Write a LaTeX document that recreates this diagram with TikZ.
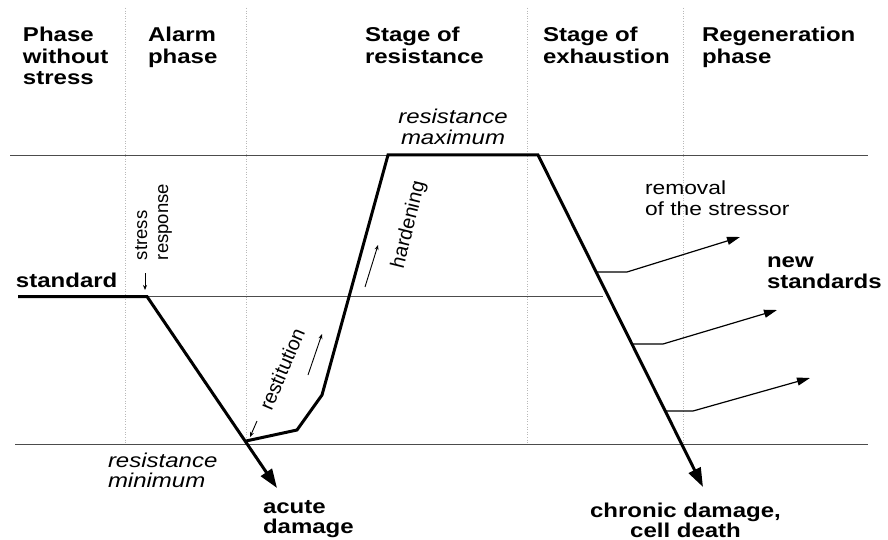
\documentclass[tikz,border=0pt]{standalone}
\usepackage{fontspec}
\setmainfont{Liberation Sans}[FakeStretch=1.2]
\newfontfamily\plainsf{Liberation Sans}
\usetikzlibrary{arrows.meta}
\begin{document}
\begin{tikzpicture}[x=1pt,y=-1pt,
  every node/.style={inner sep=0pt, outer sep=0pt},
  head/.style={font=\fontsize{20}{21.6}\selectfont\bfseries, align=left, anchor=base west},
  boldlbl/.style={font=\fontsize{20}{20.5}\selectfont\bfseries},
  plainlbl/.style={font=\fontsize{19}{21}\selectfont, align=left, anchor=base west},
  itlbl/.style={font=\fontsize{20}{21}\selectfont\itshape},
  rotlbl/.style={font=\plainsf\fontsize{20}{21}\selectfont},
  phaseline/.style={draw=gray!55, line width=0.7pt, dash pattern=on 1pt off 1.6pt},
  refline/.style={draw=black!70, line width=0.9pt},
  mainline/.style={line width=3pt, line join=miter},
  bigtip/.style={-{Triangle[length=19pt,width=13pt]}},
  branch/.style={line width=1.2pt, -{Triangle[length=13pt,width=8pt]}},
  tinyarrow/.style={line width=0.9pt, -{Stealth[length=5pt,width=4pt]}},
]
\useasboundingbox (0,0) rectangle (888,540);
\fill[white] (0,0) rectangle (888,540);

% phase separators
\foreach \xx in {125,246,527,683}
  \draw[phaseline] (\xx,8) -- (\xx,444);

% reference levels
\draw[refline] (10,155) -- (868,155);
\draw[refline] (18,296.5) -- (603,296.5);
\draw[refline] (15,444) -- (868,444);

% headings (anchor = baseline of the last line)
\node[head] (h1) at (23,84.7) {Phase\\without\\stress};
\node[head] (h2) at (148,63.1) {Alarm\\phase};
\node[head] (h3) at (365,63.1) {Stage of\\resistance};
\node[head] (h4) at (543,63.1) {Stage of\\exhaustion};
\node[head] (h5) at (702,63.1) {Regeneration\\phase};

% curve points
\coordinate (s0) at (18,296.5);
\coordinate (s1) at (147,296.5);
\coordinate (acute) at (277,488);
\coordinate (rmin) at (246,441);
\coordinate (r1) at (297,430);
\coordinate (r2) at (322,395);
\coordinate (rmax0) at (388,155);
\coordinate (rmax1) at (538,155);
\coordinate (chronic) at (703,487);

\draw[mainline, bigtip] (s0) -- (s1) -- (acute);
\draw[mainline, bigtip] (rmin) -- (r1) -- (r2) -- (rmax0) -- (rmax1) -- (chronic);

% branches to new standards
\coordinate (b1s) at (596,272); \coordinate (b1k) at (627,272); \coordinate (b1e) at (740,237);
\coordinate (b2s) at (632,344); \coordinate (b2k) at (663,344); \coordinate (b2e) at (777,310);
\coordinate (b3s) at (665,411); \coordinate (b3k) at (693,411); \coordinate (b3e) at (810,378);
\draw[branch] (b1s) -- (b1k) -- (b1e);
\draw[branch] (b2s) -- (b2k) -- (b2e);
\draw[branch] (b3s) -- (b3k) -- (b3e);

% small arrows
\coordinate (sa0) at (145,273); \coordinate (sa1) at (145,290);
\coordinate (ra0) at (257,421); \coordinate (ra1) at (250,437);
\coordinate (ca0) at (308,375); \coordinate (ca1) at (322,334);
\coordinate (ha0) at (365,287); \coordinate (ha1) at (378,245);
\draw[tinyarrow] (sa0) -- (sa1);
\draw[tinyarrow] (ra0) -- (ra1);
\draw[tinyarrow] (ca0) -- (ca1);
\draw[tinyarrow] (ha0) -- (ha1);

% labels
\node[boldlbl, anchor=base west] (std) at (16,287) {standard};
\node[itlbl, align=center, anchor=base] (rmaxl) at (453,144.5) {resistance\\maximum};
\node[itlbl, font=\fontsize{20}{20}\selectfont\itshape, align=left, anchor=base west] (rminl) at (108,487) {resistance\\minimum};
\node[rotlbl, font=\plainsf\fontsize{18.5}{21}\selectfont, align=left, rotate=90, anchor=base west] (stress) at (168,260) {stress\\response};
\node[rotlbl, rotate=67] (rest) at (282,369) {restitution};
\node[rotlbl, rotate=76] (hard) at (409,225) {hardening};
\node[plainlbl] (remov) at (645,215) {removal\\of the stressor};
\node[boldlbl, align=left, anchor=base west] (newstd) at (767,288) {new\\standards};
\node[boldlbl, align=left, anchor=base west] (acl) at (263,533.5) {acute\\damage};
\node[boldlbl, align=center, anchor=base] (chl) at (685.5,537.5) {chronic damage,\\cell death};
\end{tikzpicture}
\end{document}
